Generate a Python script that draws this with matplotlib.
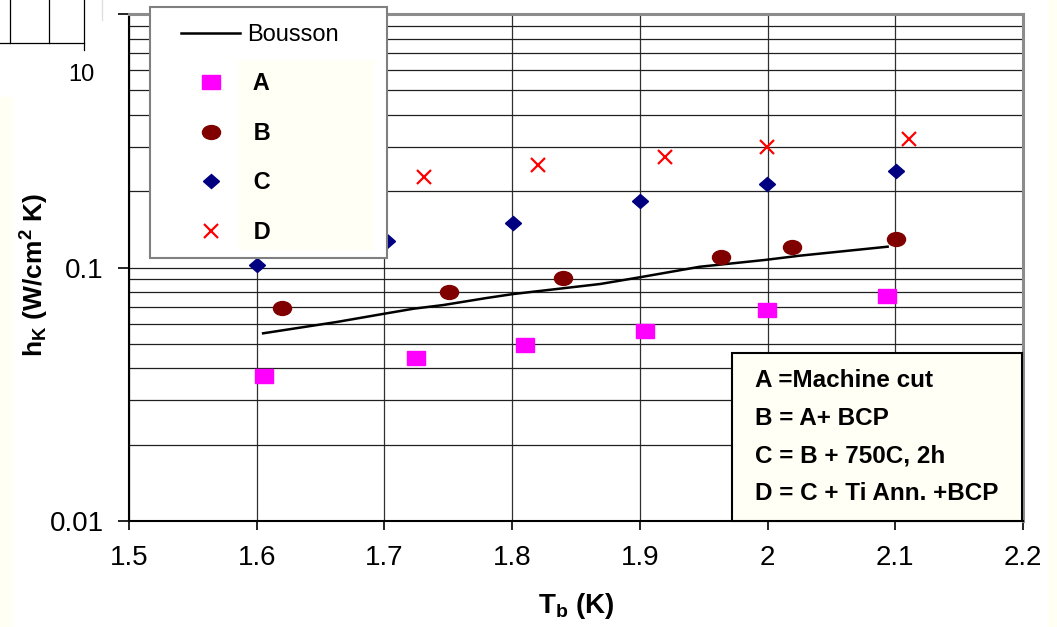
import matplotlib
matplotlib.use('Agg')
import matplotlib.pyplot as plt
from matplotlib.markers import MarkerStyle
from matplotlib.patches import Rectangle
from matplotlib.lines import Line2D
from matplotlib.transforms import Affine2D

plt.rcParams['font.family'] = ['Liberation Sans', 'DejaVu Sans']
plt.rcParams['mathtext.fontset'] = 'custom'
plt.rcParams['mathtext.rm'] = 'Liberation Sans'
plt.rcParams['mathtext.bf'] = 'Liberation Sans:bold'

# Bousson reference curve
bousson_T = [1.605, 1.663, 1.699, 1.723, 1.746, 1.780, 1.801, 1.869, 1.900, 1.947, 1.998, 2.025, 2.094]
bousson_h = [0.0550, 0.0610, 0.0656, 0.0688, 0.0711, 0.0758, 0.0786, 0.0861, 0.0915, 0.1007, 0.1071, 0.1113, 0.1208]

# samples
a_T = [1.6055, 1.7248, 1.8104, 1.9037, 1.9995, 2.0935]
a_h = [0.0373, 0.0438, 0.0495, 0.0563, 0.0680, 0.0774]

b_T = [1.620, 1.7508, 1.840, 1.9633, 2.0193, 2.1002]
b_h = [0.0694, 0.0798, 0.0909, 0.1103, 0.1208, 0.1292]

c_T = [1.600, 1.702, 1.8005, 1.900, 1.9995, 2.1005]
c_h = [0.1023, 0.1276, 0.1494, 0.1824, 0.2141, 0.2410]

d_T = [1.7313, 1.8205, 1.9198, 1.9995, 2.1104]
d_h = [0.2269, 0.2545, 0.2730, 0.2980, 0.3204]

x_ticks = [1.5, 1.6, 1.7, 1.8, 1.9, 2.0, 2.1, 2.2]
x_labels = ['1.5', '1.6', '1.7', '1.8', '1.9', '2', '2.1', '2.2']
y_ticks = [0.01, 0.1, 1]
y_labels = ['0.01', '0.1', '']

notes = ['A =Machine cut', 'B = A+ BCP', 'C = B + 750C, 2h', 'D = C + Ti Ann. +BCP']

W, H = 1057, 627
fig = plt.figure(figsize=(W / 100, H / 100), dpi=100)
ax = fig.add_axes([129 / W, 1 - 521 / H, (1023 - 129) / W, (521 - 14) / H])

wide = Affine2D().scale(1.3, 1.0)
sq = MarkerStyle('s', transform=wide)
circ = MarkerStyle('o', transform=wide)
diam = MarkerStyle('D', transform=Affine2D().scale(1.15, 1.0))

ax.plot(bousson_T, bousson_h, color='black', lw=1.8, label='Bousson', zorder=3)
ax.plot(a_T, a_h, ls='none', marker=sq, ms=9.5, color='#ff00ff', label=' A', zorder=3)
ax.plot(b_T, b_h, ls='none', marker=circ, ms=10, color='#800000', label=' B', zorder=3)
ax.plot(c_T, c_h, ls='none', marker=diam, ms=7.5, color='#000080', label=' C', zorder=3)
ax.plot(d_T, d_h, ls='none', marker='x', ms=10, mew=1.6, color='#ff0000', label=' D', zorder=3)

ax.set_yscale('log')
ax.set_xlim(1.5, 2.2)
ax.set_ylim(0.01, 1)
ax.set_xticks(x_ticks)
ax.set_xticklabels(x_labels)
ax.set_yticks(y_ticks)
ax.set_yticklabels(y_labels)
ax.tick_params(axis='x', length=6.5, width=1.2, pad=11, labelsize=20)
ax.tick_params(axis='y', which='major', length=8, width=1.2, pad=10, labelsize=20)
ax.tick_params(axis='y', which='minor', length=0)

ax.grid(True, which='both', axis='y', color='#202020', lw=0.9)
ax.grid(True, which='major', axis='x', color='#303030', lw=0.9)
ax.set_axisbelow(True)

for s in ['left', 'bottom']:
    ax.spines[s].set_linewidth(1.5)
    ax.spines[s].set_color('black')
for s in ['top', 'right']:
    ax.spines[s].set_linewidth(2.2)
    ax.spines[s].set_color('#8c8c8c')

ax.set_ylabel(r'$\mathbf{h_K}$ (W/cm$^{\mathbf{2}}$ K)', fontsize=19, fontweight='bold')
ax.yaxis.set_label_coords((50 - 129) / 894, 0.485)
ax.set_xlabel(r'T$_{\mathbf{b}}$ (K)', fontsize=20, fontweight='bold')
ax.xaxis.set_label_coords(0.5, (521 - 591) / 507)

# stray "10" label left over in the original
fig.text(95 / W, 1 - 75 / H, '10', ha='right', va='center', fontsize=17)

# legend frame and its shaded inner panel
ax.add_patch(Rectangle((150 / W, 1 - 258 / H), 237 / W, 251 / H, transform=fig.transFigure,
                       facecolor='white', edgecolor='#808080', lw=1.5, clip_on=False, zorder=4))
ax.add_patch(Rectangle((238 / W, 1 - 250 / H), 137 / W, 190 / H, transform=fig.transFigure,
                       facecolor='#fffff6', edgecolor='none', clip_on=False, zorder=4.2))
leg = ax.legend(loc='upper left', bbox_to_anchor=(181 / W, 1 - 24 / H), bbox_transform=fig.transFigure,
                frameon=False, fontsize=17, borderpad=0, borderaxespad=0, handlelength=2.5,
                handletextpad=0.3, labelspacing=1.12)
leg.set_zorder(5)
for t in leg.get_texts()[1:]:
    t.set_fontweight('bold')

# notes box
ax.add_patch(Rectangle((732 / W, 1 - 521 / H), 290 / W, 168 / H, transform=fig.transFigure,
                       facecolor='#fffff6', edgecolor='black', lw=1.5, clip_on=False, zorder=4))
ax.text(755 / W, 1 - 437 / H, '\n'.join(notes), transform=fig.transFigure, ha='left', va='center',
        fontsize=17.5, fontweight='bold', linespacing=1.83, zorder=6)

# page remnants around the chart
fig.add_artist(Rectangle((0, 0), 13 / W, 1 - 97 / H, transform=fig.transFigure,
                         facecolor='#fffff4', edgecolor='none', zorder=0))
fig.add_artist(Rectangle((1048 / W, 0), 9 / W, 1, transform=fig.transFigure,
                         facecolor='#fffff4', edgecolor='none', zorder=0))
for x0, y1 in [(10, 43), (49, 43), (84, 50)]:
    fig.add_artist(Line2D([x0 / W, x0 / W], [1, 1 - y1 / H], transform=fig.transFigure, color='black', lw=0.9))
fig.add_artist(Line2D([0, 84 / W], [1 - 43 / H, 1 - 43 / H], transform=fig.transFigure, color='black', lw=0.9))
fig.add_artist(Line2D([102 / W, 102 / W], [1, 1 - 20 / H], transform=fig.transFigure, color='#dddddd', lw=0.9))

fig.savefig('out.png', dpi=100)
